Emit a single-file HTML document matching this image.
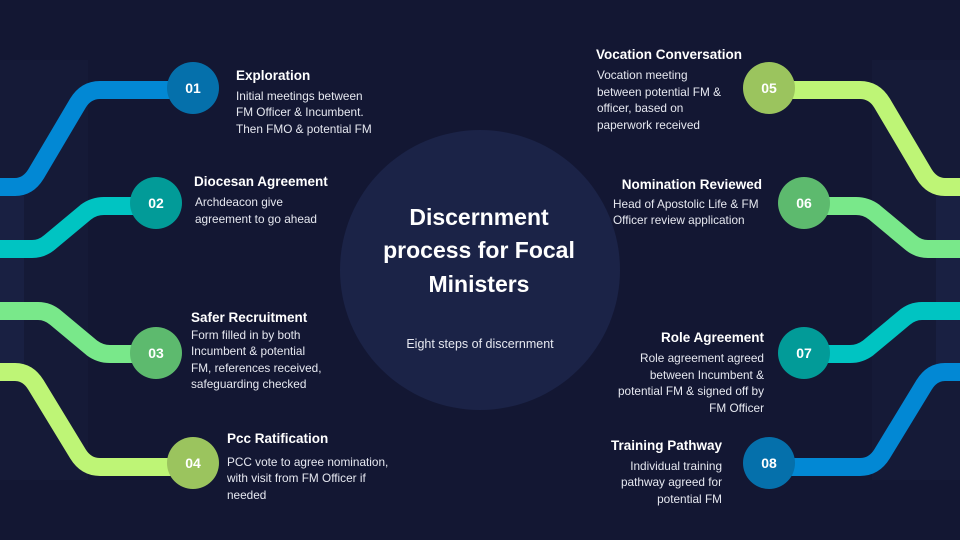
<!DOCTYPE html>
<html><head><meta charset="utf-8"><style>
html,body{margin:0;padding:0;background:#131733;}
svg{display:block}
text{font-family:"Liberation Sans",sans-serif;}
.h{font-weight:bold;font-size:13.5px;fill:#fff}
.b{font-size:11.8px;fill:#e6e8f0}
.n{font-weight:bold;font-size:14px;fill:#fff}
</style></head><body>
<svg width="960" height="540" viewBox="0 0 960 540" xmlns="http://www.w3.org/2000/svg">
<rect width="960" height="540" fill="#131733"/>
<rect x="0" y="60" width="88" height="420" fill="#151a37"/>
<rect x="0" y="196" width="24" height="168" fill="#192042"/>
<rect x="872" y="60" width="88" height="420" fill="#151a37"/>
<rect x="936" y="196" width="24" height="168" fill="#192042"/>
<circle cx="480" cy="270" r="140" fill="#1b2347"/>
<g fill="none" stroke-width="18" stroke-linejoin="round">
<path d="M0 187 H15 Q28 187 36 174 L78 103 Q86 90 100 90 H190" stroke="#0288d4"/>
<path d="M0 249 H32 Q42 249 50 242 L86 212 Q94 206 104 206 H156" stroke="#00c4c2"/>
<path d="M0 311 H38 Q48 311 56 318 L92 348 Q100 354 110 354 H156" stroke="#79e88a"/>
<path d="M0 372 H15 Q28 372 36 385 L78 454 Q86 467 100 467 H190" stroke="#bef576"/>
<path d="M960 187 H945 Q932 187 924 174 L882 103 Q874 90 860 90 H770" stroke="#bef576"/>
<path d="M960 249 H928 Q918 249 910 242 L874 212 Q866 206 856 206 H804" stroke="#79e88a"/>
<path d="M960 311 H922 Q912 311 904 318 L868 348 Q860 354 850 354 H804" stroke="#00c4c2"/>
<path d="M960 372 H945 Q932 372 924 385 L882 454 Q874 467 860 467 H770" stroke="#0288d4"/>
</g>
<circle cx="193" cy="88" r="26" fill="#0570ab"/><text class="n" x="193" y="93" text-anchor="middle">01</text>
<circle cx="156" cy="203" r="26" fill="#029b98"/><text class="n" x="156" y="208" text-anchor="middle">02</text>
<circle cx="156" cy="353" r="26" fill="#5dba6e"/><text class="n" x="156" y="358" text-anchor="middle">03</text>
<circle cx="193" cy="463" r="26" fill="#9bc45e"/><text class="n" x="193" y="468" text-anchor="middle">04</text>
<circle cx="769" cy="88" r="26" fill="#9bc45e"/><text class="n" x="769" y="93" text-anchor="middle">05</text>
<circle cx="804" cy="203" r="26" fill="#5dba6e"/><text class="n" x="804" y="208" text-anchor="middle">06</text>
<circle cx="804" cy="353" r="26" fill="#029b98"/><text class="n" x="804" y="358" text-anchor="middle">07</text>
<circle cx="769" cy="463" r="26" fill="#0570ab"/><text class="n" x="769" y="468" text-anchor="middle">08</text>

<text class="h" x="236" y="80">Exploration</text>
<text class="b" x="236" y="100">Initial meetings between</text>
<text class="b" x="236" y="116">FM Officer &amp; Incumbent.</text>
<text class="b" x="236" y="133">Then FMO &amp; potential FM</text>

<text class="h" x="194" y="186">Diocesan Agreement</text>
<text class="b" x="195" y="206">Archdeacon give</text>
<text class="b" x="195" y="223">agreement to go ahead</text>

<text class="h" x="191" y="322">Safer Recruitment</text>
<text class="b" x="191" y="339">Form filled in by both</text>
<text class="b" x="191" y="355">Incumbent &amp; potential</text>
<text class="b" x="191" y="372">FM, references received,</text>
<text class="b" x="191" y="388">safeguarding checked</text>

<text class="h" x="227" y="443">Pcc Ratification</text>
<text class="b" x="227" y="466">PCC vote to agree nomination,</text>
<text class="b" x="227" y="482">with visit from FM Officer if</text>
<text class="b" x="227" y="499">needed</text>

<text class="h" x="596" y="59">Vocation Conversation</text>
<text class="b" x="597" y="79">Vocation meeting</text>
<text class="b" x="597" y="96">between potential FM &amp;</text>
<text class="b" x="597" y="112">officer, based on</text>
<text class="b" x="597" y="129">paperwork received</text>

<text class="h" x="762" y="189" text-anchor="end">Nomination Reviewed</text>
<text class="b" x="613" y="208">Head of Apostolic Life &amp; FM</text>
<text class="b" x="613" y="224">Officer review application</text>

<text class="h" x="764" y="342" text-anchor="end">Role Agreement</text>
<text class="b" x="764" y="362" text-anchor="end">Role agreement agreed</text>
<text class="b" x="764" y="379" text-anchor="end">between Incumbent &amp;</text>
<text class="b" x="764" y="395" text-anchor="end">potential FM &amp; signed off by</text>
<text class="b" x="764" y="412" text-anchor="end">FM Officer</text>

<text class="h" x="722" y="450" text-anchor="end">Training Pathway</text>
<text class="b" x="722" y="470" text-anchor="end">Individual training</text>
<text class="b" x="722" y="486" text-anchor="end">pathway agreed for</text>
<text class="b" x="722" y="503" text-anchor="end">potential FM</text>

<g font-weight="bold" font-size="23" fill="#fff" text-anchor="middle">
<text x="479" y="225">Discernment</text>
<text x="479" y="258">process for Focal</text>
<text x="479" y="292">Ministers</text>
</g>
<text x="480" y="348" font-size="12.5" fill="#e6e8f0" text-anchor="middle">Eight steps of discernment</text>
</svg>
</body></html>
